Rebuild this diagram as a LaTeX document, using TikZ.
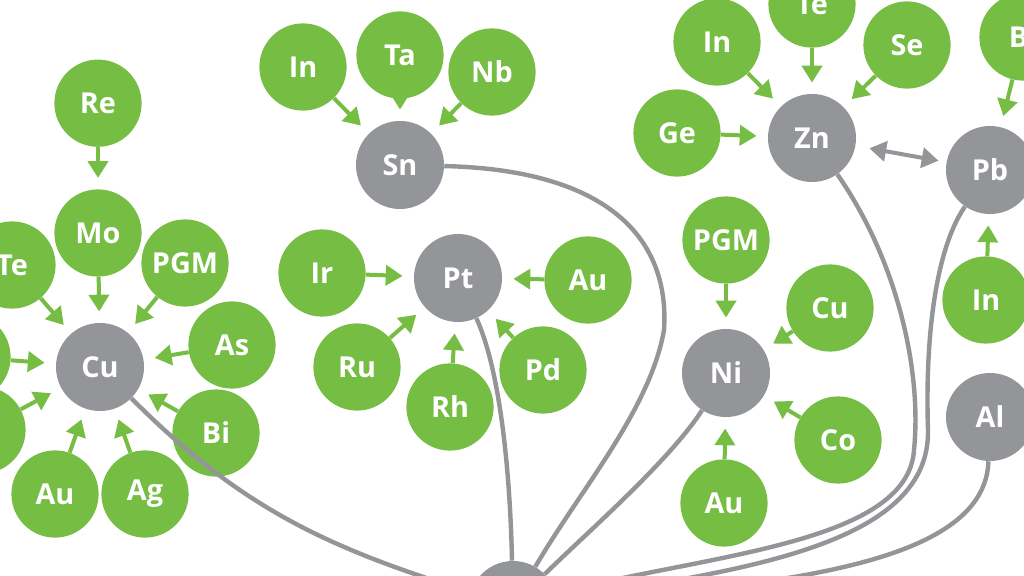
\documentclass[tikz,border=0pt]{standalone}
\usepackage{fontspec}
\setsansfont{Open Sans}
\usepackage{xcolor}
\usepackage{tikz}
\usetikzlibrary{arrows.meta,positioning}
\definecolor{leafgreen}{RGB}{118, 189, 67}
\definecolor{metalgray}{RGB}{147, 149, 152}

\begin{document}
\begin{tikzpicture}[
    x=0.025cm, y=-0.025cm,
    every node/.style={font=\sffamily\bfseries\fontsize{20.5}{22}\selectfont, text=white, align=center},
    carrier/.style={circle, fill=metalgray, minimum size=2.2cm, inner sep=0pt},
    byprod/.style={circle, fill=leafgreen, minimum size=2.18cm, inner sep=0pt},
    arrow/.style={-{Triangle[width=0.5cm,length=0.42cm]}, line width=0.1cm, draw=leafgreen, shorten >=0.28cm},
    link/.style={line width=0.11cm, draw=metalgray},
    twoway/.style={{Triangle[width=0.5cm,length=0.42cm]}-{Triangle[width=0.5cm,length=0.42cm]}, line width=0.1cm, draw=metalgray, shorten <=0.35cm, shorten >=0.2cm}
]
    \useasboundingbox (0,0) rectangle (1024,576);
    \clip (0,0) rectangle (1024,576);
    \fill[white] (0,0) rectangle (1024,576);

    \node[carrier] (hub) at (513,605) {};

    \node[carrier] (cu) at (100,367) {Cu};
    \node[byprod] (mo) at (98,233) {Mo};
    \node[byprod, above=1.05cm of mo] (re) {Re};
    \node[byprod] (tecu) at (12,265) {Te};
    \node[byprod] (pgmcu) at (185,263) {PGM};
    \node[byprod] (ascu) at (232,345) {As};
    \node[byprod] (bicu) at (216,433) {Bi};
    \node[byprod] (agcu) at (145,494) {Ag};
    \node[byprod] (aucu) at (55,494) {Au};
    \node[byprod] (lfcu) at (-33,357) {};
    \node[byprod] (llcu) at (-18,430) {};

    \node[carrier] (sn) at (400,165) {Sn};
    \node[byprod] (insn) at (303,67) {In};
    \node[byprod] (tasn) at (400,55) {Ta};
    \node[byprod] (nbsn) at (492,72) {Nb};

    \node[carrier] (pt) at (458,278) {Pt};
    \node[byprod] (irpt) at (322,273) {Ir};
    \node[byprod] (aupt) at (588,280) {Au};
    \node[byprod] (rupt) at (357,367) {Ru};
    \node[byprod] (rhpt) at (450,407) {Rh};
    \node[byprod] (pdpt) at (543,370) {Pd};

    \node[carrier] (ni) at (726,373) {Ni};
    \node[byprod] (pgmni) at (726,240) {PGM};
    \node[byprod] (cuni) at (830,308) {Cu};
    \node[byprod] (coni) at (838,440) {Co};
    \node[byprod] (auni) at (724,503) {Au};

    \node[carrier] (zn) at (812,138) {Zn};
    \node[byprod] (tezn) at (812,4) {Te};
    \node[byprod] (inzn) at (717,42) {In};
    \node[byprod] (sezn) at (907,45) {Se};
    \node[byprod] (gezn) at (677,133) {Ge};

    \node[carrier] (pb) at (990,170) {Pb};
    \node[byprod] (bipb) at (1023,37) {Bi};
    \node[byprod] (inpb) at (986,300) {In};
    \node[carrier] (al) at (990,417) {Al};

    \draw[link] (cu) to[out=-45, in=163] (hub);
    \draw[link] (sn) .. controls (610,170) and (670,240) .. (664,330) .. controls (650,410) and (580,490) .. (hub);
    \draw[link] (pt) .. controls (500,370) and (510,470) .. (hub);
    \draw[link] (ni) .. controls (670,460) and (590,530) .. (hub);
    \draw[link] (zn) .. controls (897,260) and (922,370) .. (914,450) .. controls (908,545) and (700,555) .. (hub);
    \draw[link] (pb) .. controls (935,250) and (925,340) .. (928,430) .. controls (930,540) and (760,570) .. (hub);
    \draw[link] (al) .. controls (985,560) and (800,585) .. (hub);

    \draw[arrow] (re) -- (mo);
    \draw[arrow] (mo) -- (cu);
    \draw[arrow] (tecu) -- (cu);
    \draw[arrow] (pgmcu) -- (cu);
    \draw[arrow] (ascu) -- (cu);
    \draw[arrow] (bicu) -- (cu);
    \draw[arrow] (agcu) -- (cu);
    \draw[arrow] (aucu) -- (cu);
    \draw[arrow] (lfcu) -- (cu);
    \draw[arrow] (llcu) -- (cu);

    \draw[arrow] (insn) -- (sn);
    \draw[arrow] (tasn) -- (sn);
    \draw[arrow] (nbsn) -- (sn);

    \draw[arrow] (irpt) -- (pt);
    \draw[arrow] (aupt) -- (pt);
    \draw[arrow] (rupt) -- (pt);
    \draw[arrow] (rhpt) -- (pt);
    \draw[arrow] (pdpt) -- (pt);

    \draw[arrow] (pgmni) -- (ni);
    \draw[arrow] (cuni) -- (ni);
    \draw[arrow] (coni) -- (ni);
    \draw[arrow] (auni) -- (ni);

    \draw[arrow] (tezn) -- (zn);
    \draw[arrow] (inzn) -- (zn);
    \draw[arrow] (sezn) -- (zn);
    \draw[arrow] (gezn) -- (zn);

    \draw[arrow] (bipb) -- (pb);
    \draw[arrow] (inpb) -- (pb);
    \draw[twoway] (zn) -- (pb);
\end{tikzpicture}
\end{document}
